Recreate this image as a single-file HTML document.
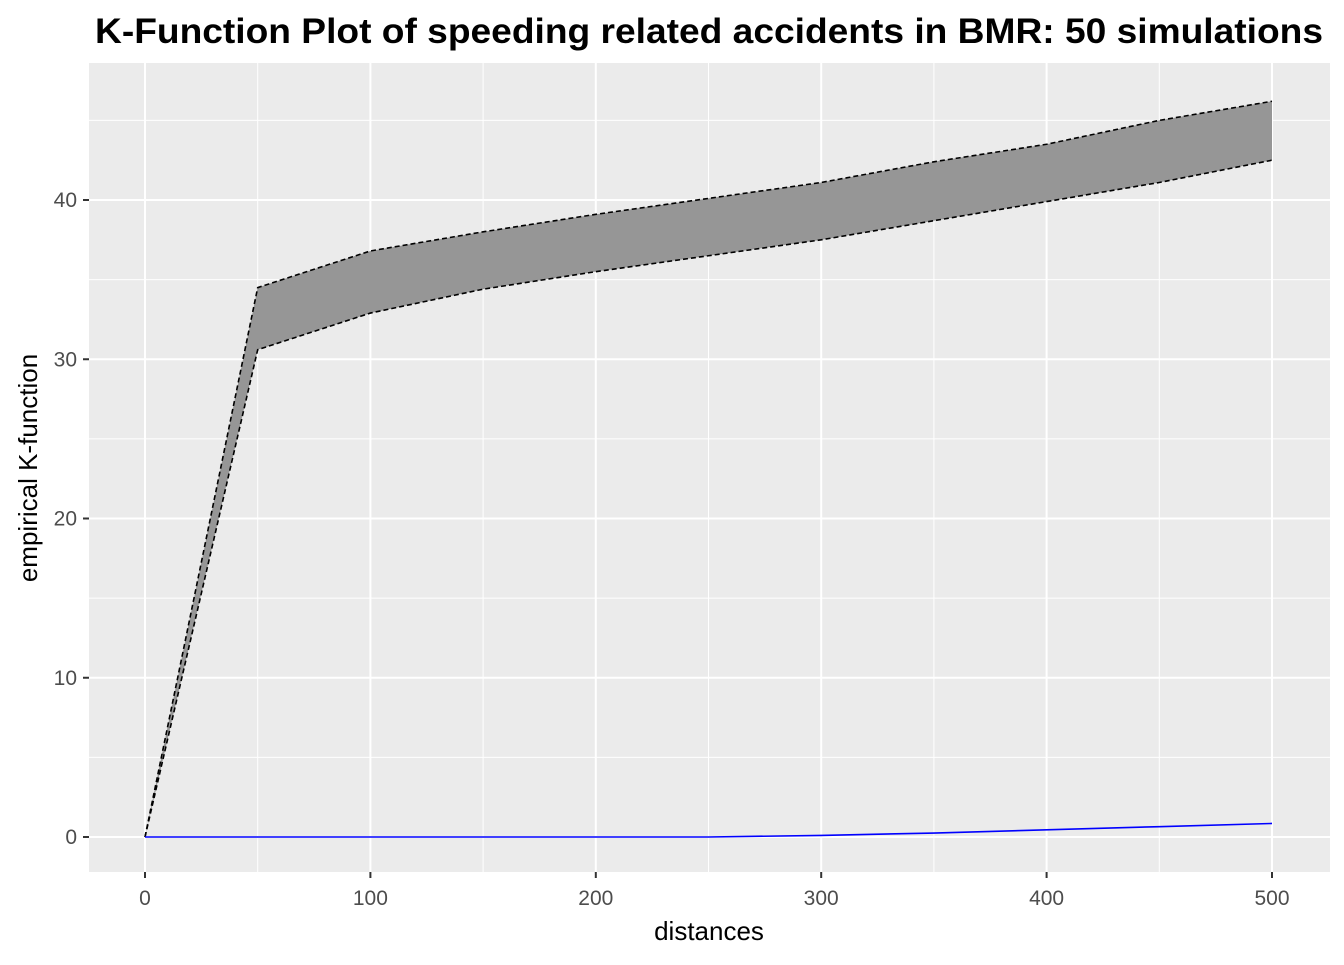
<!DOCTYPE html>
<html><head><meta charset="utf-8"><style>
body{margin:0;background:#fff;}
svg text{font-family:"Liberation Sans",Arial,sans-serif;}
</style></head><body>
<svg id="chart" width="1344" height="960" xmlns="http://www.w3.org/2000/svg">
<rect x="0" y="0" width="1344" height="960" fill="#fff"/>
<text x="95" y="43" textLength="1228" lengthAdjust="spacingAndGlyphs" font-size="35" font-weight="bold" fill="#000">K-Function Plot of speeding related accidents in BMR: 50 simulations</text>
<rect x="89" y="63" width="1241" height="809" fill="#ebebeb"/>
<g id="grid"></g>
<g id="marks"></g>
<g id="axes"></g>
<text x="709" y="940" text-anchor="middle" font-size="26" fill="#000">distances</text>
<text transform="translate(37,468) rotate(-90)" text-anchor="middle" font-size="26" fill="#000">empirical K-function</text>
</svg>
<script>
const distances=[0,50,100,150,200,250,300,350,400,450,500];
const upperEnv=[0,34.5,36.8,38.0,39.1,40.1,41.1,42.4,43.5,45.0,46.2];
const lowerEnv=[0,30.6,32.9,34.4,35.5,36.5,37.5,38.7,39.9,41.1,42.5];
const observed=[0,0,0,0,0,0,0.1,0.25,0.45,0.65,0.85];
const xTicks=[0,100,200,300,400,500];
const yTicks=[0,10,20,30,40];
const NS="http://www.w3.org/2000/svg";
const xs=v=>145+(v/500)*(1272-145);
const ys=v=>837-(v/40)*(837-200);
function mk(tag,attrs,parent){const e=document.createElementNS(NS,tag);for(const k in attrs)e.setAttribute(k,attrs[k]);parent.appendChild(e);return e;}
const grid=document.getElementById('grid'),marks=document.getElementById('marks'),axes=document.getElementById('axes');
for(let v=50;v<=550;v+=100){const x=xs(v);if(x<89||x>1330)continue;const l=mk('line',{x1:x,x2:x,y1:63,y2:872,stroke:'#fff','stroke-width':1},grid);

}
for(let v=-5;v<=45;v+=10){const y=ys(v);if(y<63||y>872)continue;const l=mk('line',{x1:89,x2:1330,y1:y,y2:y,stroke:'#fff','stroke-width':1},grid);

}
xTicks.forEach(v=>{const x=xs(v);const l=mk('line',{x1:x,x2:x,y1:63,y2:872,stroke:'#fff','stroke-width':2},grid);


const t=mk('line',{x1:x,x2:x,y1:872,y2:878,stroke:'#333','stroke-width':2},axes);


const tx=mk('text',{x:x,y:905,'text-anchor':'middle','font-size':21,fill:'#4d4d4d'},axes);tx.textContent=v;

});
yTicks.forEach(v=>{const y=ys(v);const l=mk('line',{x1:89,x2:1330,y1:y,y2:y,stroke:'#fff','stroke-width':2},grid);


const t=mk('line',{x1:83,x2:89,y1:y,y2:y,stroke:'#333','stroke-width':2},axes);


const tx=mk('text',{x:77,y:y+7,'text-anchor':'end','font-size':21,fill:'#4d4d4d'},axes);tx.textContent=v;

});
let d='';distances.forEach((v,i)=>{d+=(i?'L':'M')+xs(v)+','+ys(upperEnv[i]);});
for(let i=distances.length-1;i>=0;i--)d+='L'+xs(distances[i])+','+ys(lowerEnv[i]);d+='Z';
const band=mk('path',{d:d,fill:'#969696',stroke:'none'},marks);


function line(arr,name,color,dash){const p=mk('polyline',{points:distances.map((v,i)=>xs(v)+','+ys(arr[i])).join(' '),fill:'none',stroke:color,'stroke-width':1.6},marks);if(dash)p.setAttribute('stroke-dasharray',dash);

}
line(upperEnv,'upper-envelope-line','#000','5,3');
line(lowerEnv,'lower-envelope-line','#000','5,3');
line(observed,'observed-k-line','#0000ff',null);
</script>
</body></html>
